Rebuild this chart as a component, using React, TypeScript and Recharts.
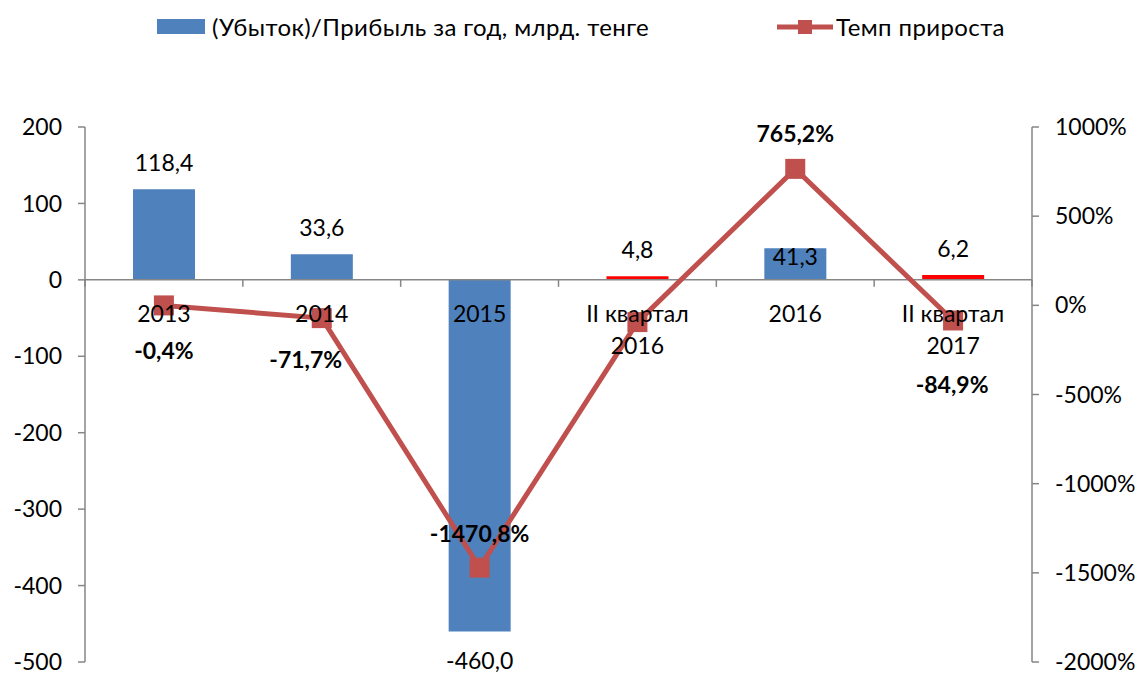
import { ComposedChart, Bar, Line, XAxis, YAxis, ReferenceLine, LabelList, Cell } from 'recharts'

const categories = ['2013', '2014', '2015', 'II квартал\n2016', '2016', 'II квартал\n2017']
const profit = [118.4, 33.6, -460.0, 4.8, 41.3, 6.2]
const growth = [-0.4, -71.7, -1470.8, -94, 765.2, -84.9]
const leftTicks = [-500, -400, -300, -200, -100, 0, 100, 200]
const rightTicks = [-2000, -1500, -1000, -500, 0, 500, 1000]
const profitName = '(Убыток)/Прибыль за год, млрд. тенге'
const growthName = 'Темп прироста'

const data = categories.map((c, i) => ({ cat: c, profit: profit[i], growth: growth[i] }))

const W = 1139
const H = 673
const LEFT_W = 85
const RIGHT_W = 107
const band = (W - LEFT_W - RIGHT_W) / categories.length
const FONT = 'Lato, Roboto, sans-serif'
const FS = 23
const GRAY = '#868686'
const BLUE = '#4F81BD'
const RED = '#C0504D'

// label placement tweaks, like the hand-moved labels in the original
const growthLabelPos = [
    { dx: 0, dy: 45 },
    { dx: -16, dy: 41 },
    { dx: 0, dy: -35 },
    null,
    { dx: 0, dy: -36 },
    { dx: -1, dy: 64 },
]

const fmt = (v: number, d = 1) => v.toFixed(d).replace('.', ',')

const BarLabel = (props: any) => {
    const { x, y, width, height, value, index } = props
    const top = Math.min(y, y + height)
    const bottom = Math.max(y, y + height)
    let cy = value >= 0 ? top - 27 : bottom + 29
    if (index === 4) cy = top + 8
    return (
        <text x={x + width / 2} y={cy} textAnchor="middle" dominantBaseline="central" fontSize={FS} fontFamily={FONT} fill="#000">
            {fmt(value)}
        </text>
    )
}

const GrowthLabel = (props: any) => {
    const { x, y, value, index } = props
    const p = growthLabelPos[index]
    if (!p) return null
    return (
        <text x={x + p.dx} y={y + p.dy} textAnchor="middle" dominantBaseline="central" fontSize={FS} fontWeight="bold" fontFamily={FONT} fill="#000">
            {fmt(value) + '%'}
        </text>
    )
}

// category names sit on the zero line, as in Excel
const CategoryLabel = (props: any) => {
    const { x, y, index } = props
    const lines = categories[index].split('\n')
    return (
        <g>
            <line x1={x - band / 2} x2={x - band / 2} y1={y} y2={y + 7} stroke={GRAY} strokeWidth={1.5} />
            {index === categories.length - 1 && (
                <line x1={x + band / 2} x2={x + band / 2} y1={y} y2={y + 7} stroke={GRAY} strokeWidth={1.5} />
            )}
            {lines.map((l, i) => (
                <text key={i} x={x} y={y + 33 + i * 32} textAnchor="middle" dominantBaseline="central" fontSize={FS} fontFamily={FONT} fill="#000">
                    {l}
                </text>
            ))}
        </g>
    )
}

const SquareDot = (props: any) => {
    const { cx, cy, index } = props
    return <rect key={index} x={cx - 10} y={cy - 10} width={20} height={20} fill={RED} />
}

const Legend = () => (
    <div style={{ position: 'absolute', top: 12, left: 157, display: 'flex', alignItems: 'center', fontFamily: FONT, fontSize: 24, letterSpacing: 0.4, color: '#000' }}>
        <div style={{ width: 48, height: 15, background: BLUE, marginRight: 7 }} />
        <span style={{ width: 430, whiteSpace: 'nowrap' }}>{profitName}</span>
        <svg width={56} height={20} style={{ marginLeft: 135, marginRight: 3 }}>
            <line x1={0} x2={56} y1={10} y2={10} stroke={RED} strokeWidth={5} />
            <rect x={21} y={3} width={14} height={14} fill={RED} />
        </svg>
        <span style={{ whiteSpace: 'nowrap' }}>{growthName}</span>
    </div>
)

export default function App() {
    return (
        <div style={{ position: 'relative', width: W, height: H }}>
            <style>{'body{margin:0}'}</style>
            <Legend />
            <ComposedChart width={W} height={H} data={data} margin={{ top: 127, right: 0, bottom: 11, left: 0 }}>
                <XAxis dataKey="cat" hide />
                <YAxis
                    yAxisId="left"
                    domain={[-500, 200]}
                    ticks={leftTicks}
                    width={LEFT_W}
                    tickSize={7}
                    tickMargin={16}
                    stroke={GRAY}
                    strokeWidth={1.5}
                    tick={{ fill: '#000', fontSize: FS, fontFamily: FONT }}
                    interval={0}
                />
                <YAxis
                    yAxisId="right"
                    orientation="right"
                    domain={[-2000, 1000]}
                    ticks={rightTicks}
                    width={RIGHT_W}
                    tickSize={7}
                    tickMargin={16}
                    stroke={GRAY}
                    strokeWidth={1.5}
                    tickFormatter={(v) => `${v}%`}
                    tick={{ fill: '#000', fontSize: FS, fontFamily: FONT, textAnchor: 'start' }}
                    interval={0}
                />
                <ReferenceLine yAxisId="left" y={0} stroke={GRAY} strokeWidth={1.5} />
                <Bar yAxisId="left" dataKey="profit" name={profitName} barSize={62} isAnimationActive={false}>
                    {data.map((d, i) => (
                        <Cell key={i} fill={d.cat.startsWith('II') ? '#FF0000' : BLUE} />
                    ))}
                    <LabelList dataKey="profit" content={BarLabel} />
                </Bar>
                <Line
                    yAxisId="left"
                    dataKey={() => 0}
                    stroke="none"
                    dot={false}
                    activeDot={false}
                    legendType="none"
                    isAnimationActive={false}
                >
                    <LabelList dataKey="cat" content={CategoryLabel} />
                </Line>
                <Line
                    yAxisId="right"
                    type="linear"
                    dataKey="growth"
                    name={growthName}
                    stroke={RED}
                    strokeWidth={5}
                    dot={SquareDot}
                    activeDot={false}
                    isAnimationActive={false}
                >
                    <LabelList dataKey="growth" content={GrowthLabel} />
                </Line>
            </ComposedChart>
        </div>
    )
}
